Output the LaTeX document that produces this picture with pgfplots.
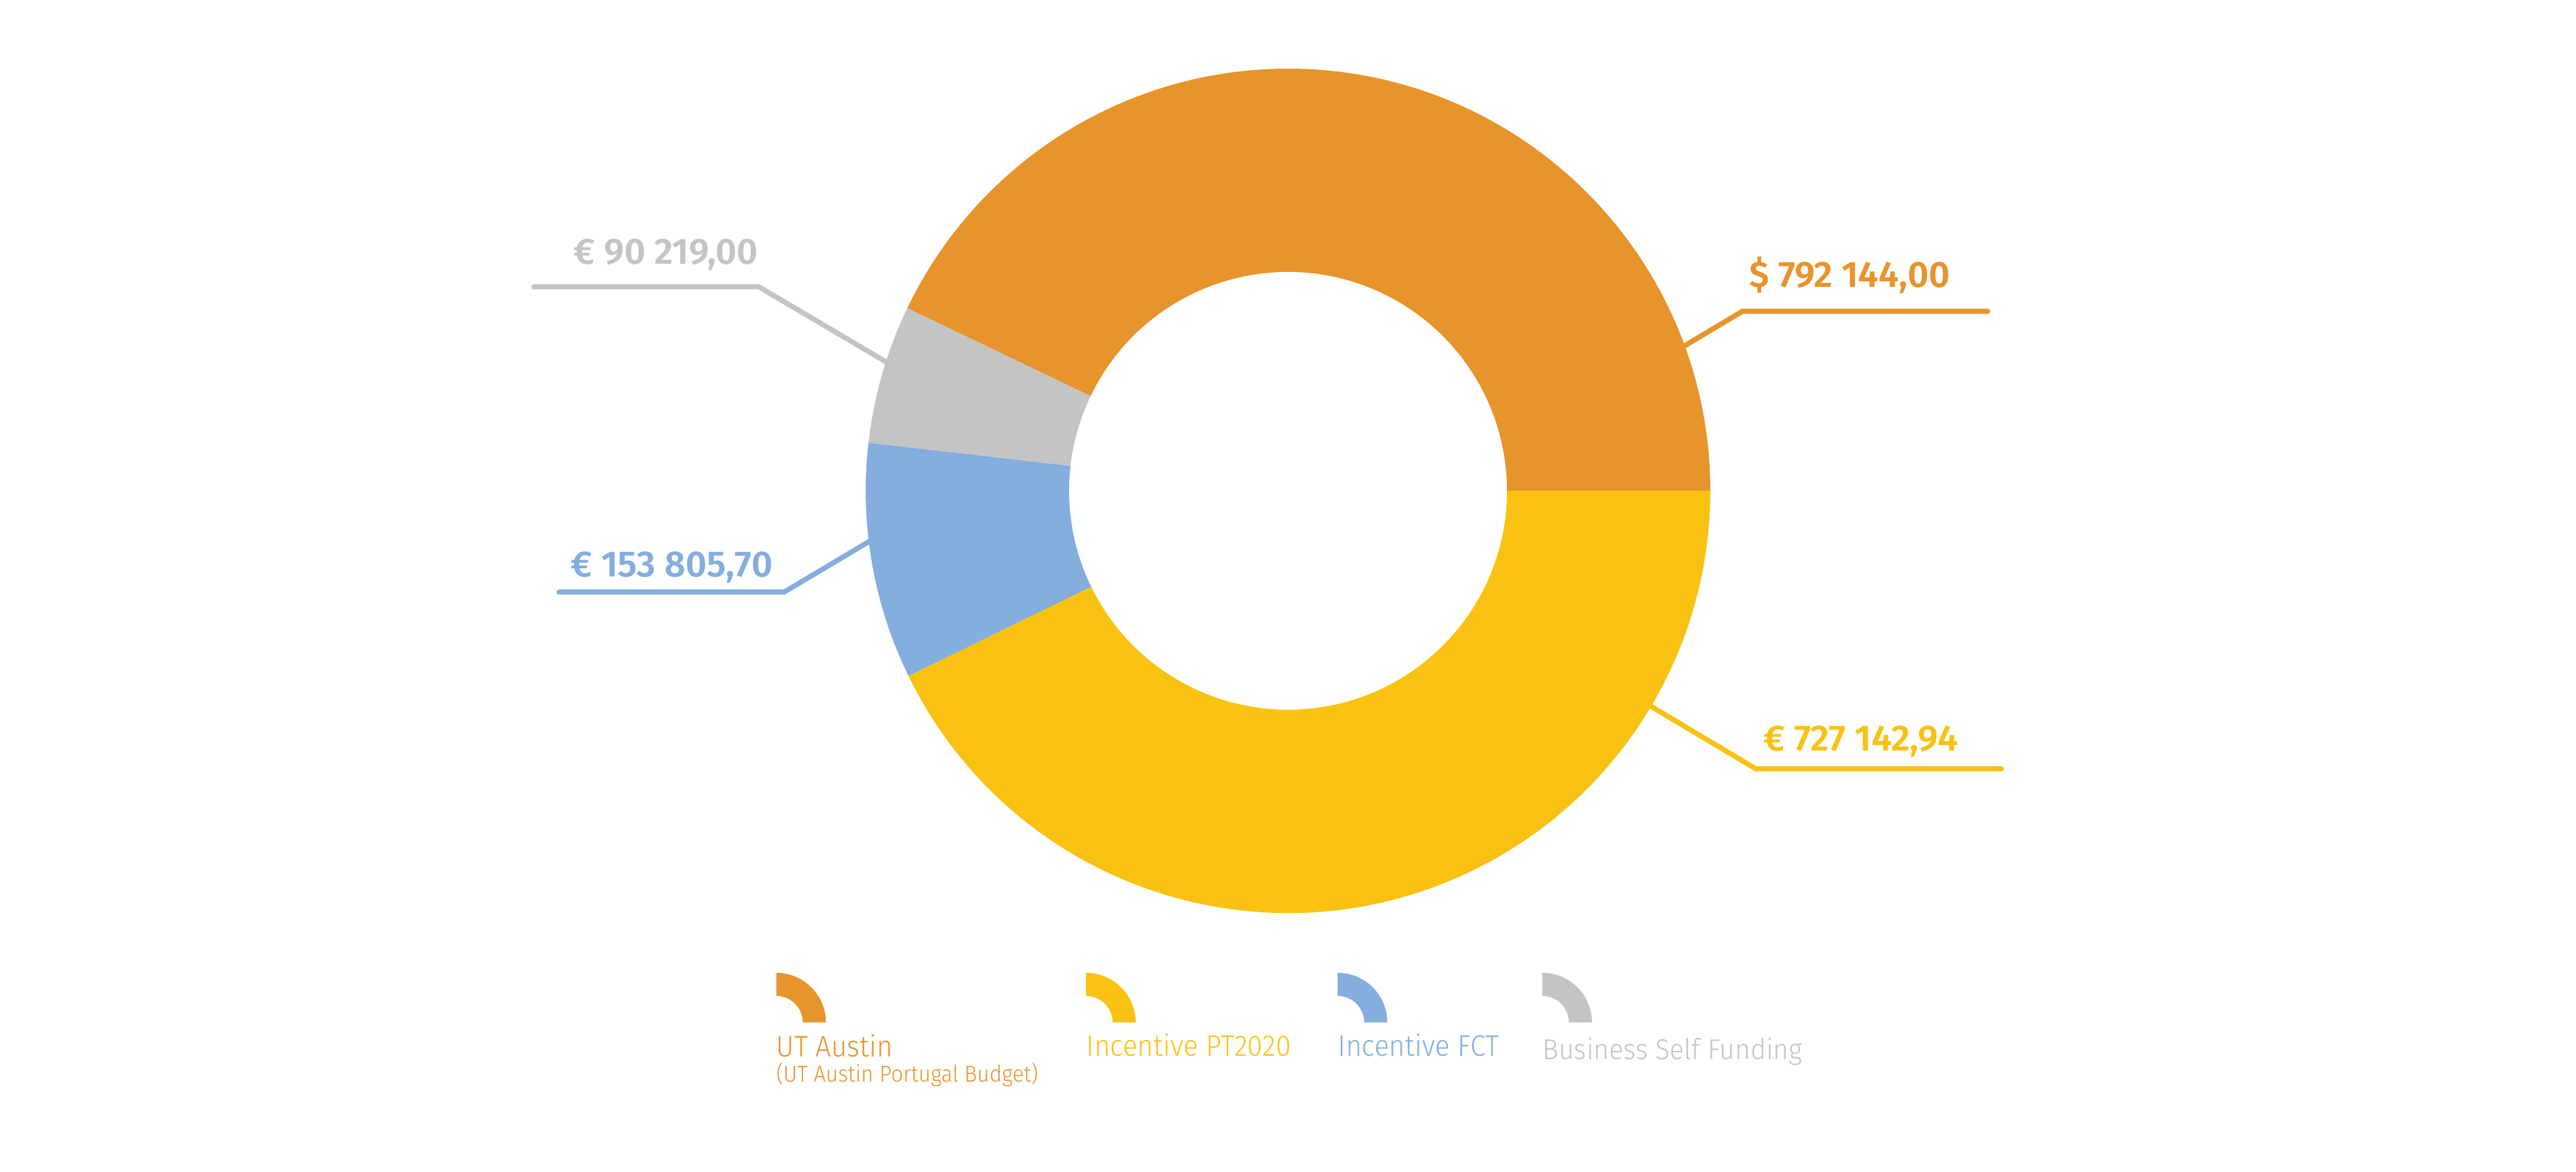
\documentclass[border=0pt]{standalone}
\usepackage{pgfplots}
\pgfplotsset{compat=1.18}
\usepackage{fontspec}
\setmainfont{Fira Sans}[UprightFont=* Light, BoldFont=* SemiBold]
\newfontfamily\legfont{Fira Sans}[UprightFont=* Light, FakeStretch=0.93]

\definecolor{cUT}{HTML}{E6942B}
\definecolor{cPT}{HTML}{F9C213}
\definecolor{cFCT}{HTML}{83AEDE}
\definecolor{cSelf}{HTML}{C4C4C4}

% slice values in euro (UT Austin: euro equivalent of $ 792 144,00, read off its angle)
\def\vUT{729000}
\def\vSelf{90219.00}
\def\vFCT{153805.70}
\def\vPT{727142.94}
\edef\tot{\fpeval{\vUT+\vSelf+\vFCT+\vPT}}
\edef\aA{\fpeval{360*\vUT/\tot}}
\edef\aB{\fpeval{\aA+360*\vSelf/\tot}}
\edef\aC{\fpeval{\aB+360*\vFCT/\tot}}

% ring segment: colour, start angle, end angle, centre x, centre y, outer r, inner r (mm)
\newcommand\ring[7]{%
  \fill[#1] ([shift={(#2:#6mm)}]axis cs:#4,#5)
    arc[start angle=#2, end angle=#3, radius=#6mm]
    -- ([shift={(#3:#7mm)}]axis cs:#4,#5)
    arc[start angle=#3, end angle=#2, radius=#7mm] -- cycle;}

\newcommand\lab{\fontsize{15.3}{18}\selectfont\bfseries}
\newcommand\leg{\legfont\fontsize{12.4}{15}\selectfont}
\newcommand\legsub{\legfont\fontsize{9.6}{12}\selectfont}

\begin{document}
\begin{tikzpicture}
\begin{axis}[x=0.1mm, y=0.1mm, xmin=0, xmax=3788, ymin=0, ymax=1724,
  hide axis, clip=false]
\path (axis cs:0,0) rectangle (axis cs:3788,1724);

% leader lines
\begin{scope}[line width=0.75mm, line cap=round]
\draw[cUT]   (axis cs:2455,1202) -- (axis cs:2562,1266) -- (axis cs:2923,1266);
\draw[cPT]   (axis cs:2411,695)  -- (axis cs:2582,593)  -- (axis cs:2943,593);
\draw[cSelf] (axis cs:1321,1181) -- (axis cs:1116,1302) -- (axis cs:785,1302);
\draw[cFCT]  (axis cs:1294,937)  -- (axis cs:1153,853)  -- (axis cs:822,853);
\end{scope}

% donut
\ring{cUT}{0}{\aA}{1894}{1002}{62.1}{32.2}
\ring{cSelf}{\aA}{\aB}{1894}{1002}{62.1}{32.2}
\ring{cFCT}{\aB}{\aC}{1894}{1002}{62.1}{32.2}
\ring{cPT}{\aC}{360}{1894}{1002}{62.1}{32.2}

% value labels
\node[anchor=base west, inner sep=0, text=cUT, font=\lab]   at (axis cs:2572,1301) {\$ 792 144,00};
\node[anchor=base west, inner sep=0, text=cPT, font=\lab]   at (axis cs:2593,619)  {€ 727 142,94};
\node[anchor=base west, inner sep=0, text=cSelf, font=\lab] at (axis cs:843,1335)  {€ 90 219,00};
\node[anchor=base west, inner sep=0, text=cFCT, font=\lab]  at (axis cs:839,875)   {€ 153 805,70};

% legend
\ring{cUT}{0}{90}{1141.5}{220}{7.3}{3.9}
\ring{cPT}{0}{90}{1597}{220}{7.3}{3.9}
\ring{cFCT}{0}{90}{1967}{220}{7.3}{3.9}
\ring{cSelf}{0}{90}{2268}{220}{7.3}{3.9}
\node[anchor=base west, inner sep=0, text=cUT, font=\leg]    at (axis cs:1141,169) {UT Austin};
\node[anchor=base west, inner sep=0, text=cUT, font=\legsub] at (axis cs:1141,132) {(UT Austin Portugal Budget)};
\node[anchor=base west, inner sep=0, text=cPT, font=\leg]    at (axis cs:1597,170) {Incentive PT2020};
\node[anchor=base west, inner sep=0, text=cFCT, font=\leg]   at (axis cs:1967,170) {Incentive FCT};
\node[anchor=base west, inner sep=0, text=cSelf, font=\legfont\fontsize{12}{15}\selectfont] at (axis cs:2268,165) {Business Self Funding};
\end{axis}
\end{tikzpicture}
\end{document}
